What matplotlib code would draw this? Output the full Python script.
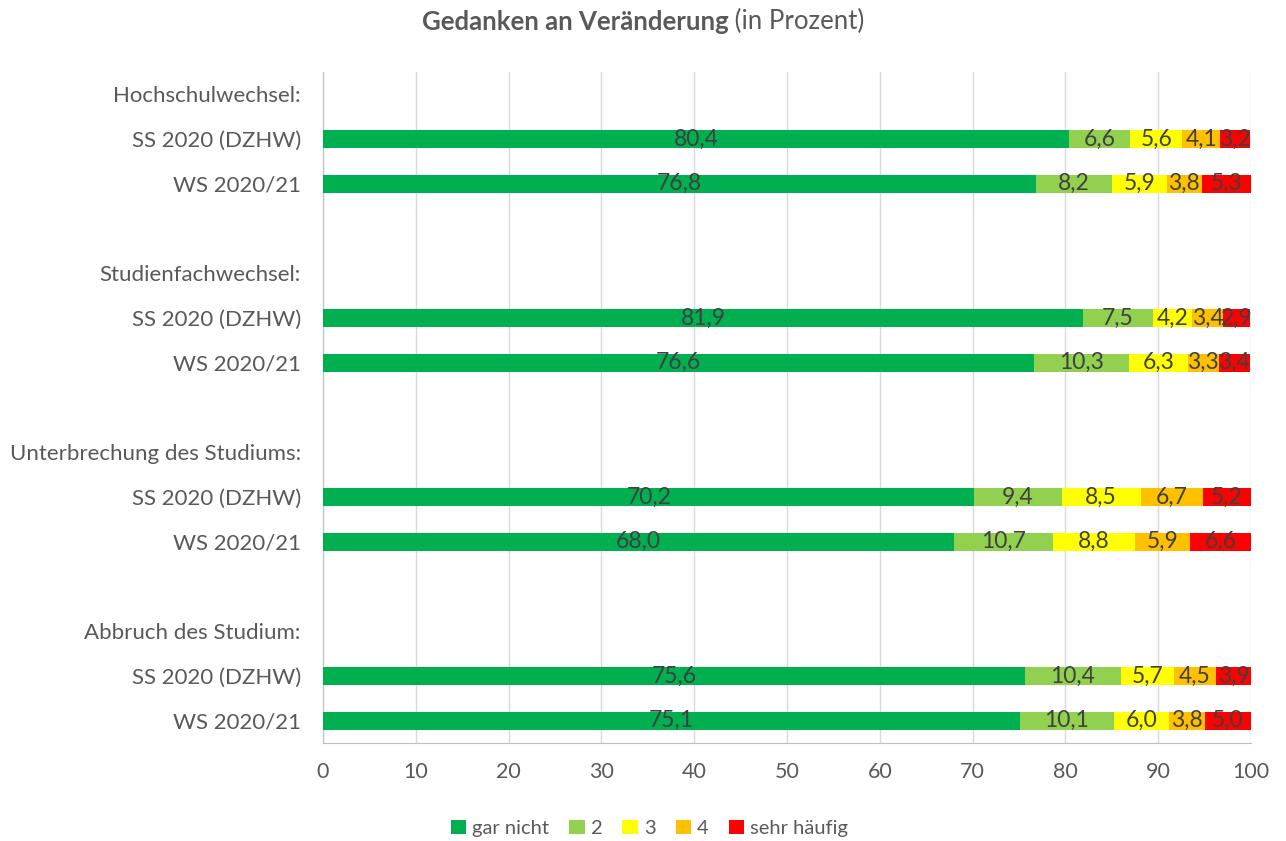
"""Gedanken an Veränderung - gestapelte Balken."""

import matplotlib
matplotlib.use('Agg')
import matplotlib.pyplot as plt
from matplotlib.patches import Patch
import numpy as np

plt.rcParams['font.family'] = ['Lato', 'DejaVu Sans']

# Zeilen von oben nach unten (Überschrift, SS, WS, Leerzeile ...)
row_labels = [
    'Hochschulwechsel:', 'SS 2020 (DZHW)', 'WS 2020/21', '',
    'Studienfachwechsel:', 'SS 2020 (DZHW)', 'WS 2020/21', '',
    'Unterbrechung des Studiums:', 'SS 2020 (DZHW)', 'WS 2020/21', '',
    'Abbruch des Studium:', 'SS 2020 (DZHW)', 'WS 2020/21',
]
series_names = ['gar nicht', '2', '3', '4', 'sehr häufig']
colors = ['#00B050', '#92D050', '#FFFF00', '#FFC000', '#FF0000']

# Werte je Zeile (None = Zeile ohne Balken)
gar_nicht = [None, 80.4, 76.8, None, None, 81.9, 76.6, None, None, 70.2, 68.0, None, None, 75.6, 75.1]
stufe_2 = [None, 6.6, 8.2, None, None, 7.5, 10.3, None, None, 9.4, 10.7, None, None, 10.4, 10.1]
stufe_3 = [None, 5.6, 5.9, None, None, 4.2, 6.3, None, None, 8.5, 8.8, None, None, 5.7, 6.0]
stufe_4 = [None, 4.1, 3.8, None, None, 3.4, 3.3, None, None, 6.7, 5.9, None, None, 4.5, 3.8]
sehr_haeufig = [None, 3.2, 5.3, None, None, 2.9, 3.4, None, None, 5.2, 6.6, None, None, 3.9, 5.0]

series = [gar_nicht, stufe_2, stufe_3, stufe_4, sehr_haeufig]

fig = plt.figure(figsize=(12.86, 8.41), dpi=100)
ax = fig.add_axes([0.2512, 0.1165, 0.7216, 0.7979])

y = np.arange(len(row_labels))
left = np.zeros(len(row_labels))
for vals, col in zip(series, colors):
    v = np.array([0.0 if x is None else x for x in vals])
    ax.barh(y, v, left=left, height=0.4, color=col, zorder=3)
    for yi, (xv, l) in enumerate(zip(vals, left)):
        if xv is None:
            continue
        ax.text(l + xv / 2, yi, f'{xv:.1f}'.replace('.', ','), ha='center', va='center',
                fontsize=16.5, color='#404040', zorder=4)
    left = left + v

ax.set_ylim(len(row_labels) - 0.5, -0.5)
ax.set_xlim(0, 100)
ax.set_xticks(np.arange(0, 101, 10))
ax.set_yticks(y)
ax.set_yticklabels(row_labels)
ax.tick_params(axis='y', length=0, pad=16, labelsize=16, labelcolor='#595959')
ax.tick_params(axis='x', length=0, pad=14, labelsize=15.5, labelcolor='#595959')
ax.grid(True, axis='x', color='#D9D9D9', linewidth=1, zorder=0)
for s in ['top', 'right']:
    ax.spines[s].set_visible(False)
for s in ['left', 'bottom']:
    ax.spines[s].set_color('#BFBFBF')

# Legende
handles = [Patch(facecolor=c, edgecolor='none') for c in colors]
fig.legend(handles, series_names, loc='center', bbox_to_anchor=(0.505, 0.015), ncol=5,
           frameon=False, fontsize=14.5, handlelength=0.75, handleheight=0.75,
           handletextpad=0.3, columnspacing=1.0, labelcolor='#595959')

# Titel: fetter Teil + normaler Teil
fig.canvas.draw()
r = fig.canvas.get_renderer()
t1 = fig.text(0, 0.974, 'Gedanken an Veränderung', fontsize=18.5, fontweight='bold',
              color='#595959', va='center', ha='left')
t2 = fig.text(0, 0.974, ' (in Prozent)', fontsize=18.5, color='#595959', va='center', ha='left')
w1 = t1.get_window_extent(r).width
w2 = t2.get_window_extent(r).width
x0 = (0.5 * 1286 - (w1 + w2) / 2) / 1286
t1.set_x(x0)
t2.set_x(x0 + w1 / 1286)

fig.savefig('out.png', dpi=100)
